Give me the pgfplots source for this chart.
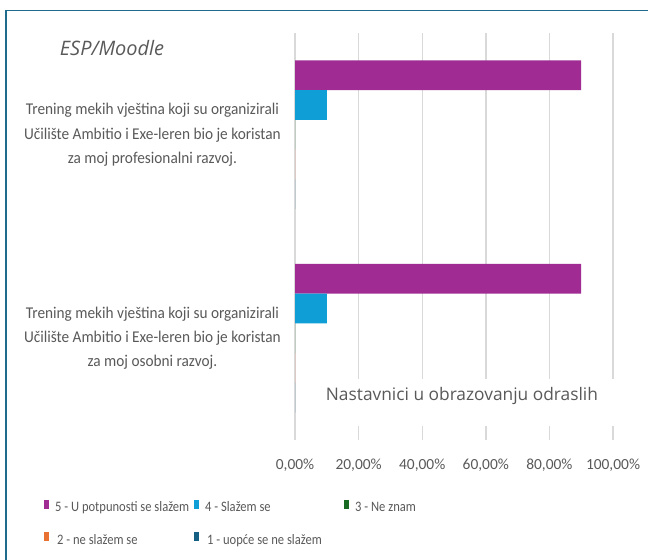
\documentclass[border=0pt]{standalone}
\usepackage{fontspec}
\setmainfont{Carlito}
\newfontfamily\aptos{Open Sans}
\newfontfamily\narrowA[FakeStretch=0.93]{Carlito}
\newfontfamily\narrowB[FakeStretch=0.87]{Carlito}
\usepackage{pgfplots}
\pgfplotsset{compat=1.18}
\definecolor{c5}{HTML}{A02B93}
\definecolor{c4}{HTML}{0F9ED5}
\definecolor{c3}{HTML}{196B24}
\definecolor{c2}{HTML}{E97132}
\definecolor{c1}{HTML}{156082}
\definecolor{txt}{HTML}{595959}
\definecolor{gridc}{HTML}{D9D9D9}
\definecolor{framec}{HTML}{1F6B8E}
\newcommand{\lb}[1]{\makebox[133bp][l]{\rule[-3bp]{0pt}{13bp}#1}}
\begin{document}
\begin{tikzpicture}[x=1bp,y=1bp]
\useasboundingbox (0,0) rectangle (648,560);
\draw[framec, line width=1.2bp] (6,-5) -- (6,549.5) -- (660,549.5);
\node[font=\aptos\itshape\fontsize{20}{24}\selectfont, text=txt] at (112,512) {ESP/Moodle};
\begin{axis}[
  at={(295bp,120bp)}, anchor=south west,
  scale only axis, width=318bp, height=407bp,
  clip=false,
  xbar, bar width=0.146,
  xmin=0, xmax=100, ymin=-0.5, ymax=1.5,
  axis line style={draw=none},
  major tick length=0pt,
  xmajorgrids, ymajorgrids=false, grid style={color=gridc, line width=1.4bp},
  xtick={0,20,40,60,80,100},
  xticklabels={{0,00\%},{20,00\%},{40,00\%},{60,00\%},{80,00\%},{100,00\%}},
  xticklabel style={font=\fontsize{15.5}{18}\selectfont, text=txt, inner sep=0pt, yshift=-19bp},
  ytick={0,1},
  yticklabels={{Trening mekih vještina koji su organizirali\\Učilište Ambitio i Exe-leren bio je koristan\\za moj osobni razvoj.},
               {Trening mekih vještina koji su organizirali\\Učilište Ambitio i Exe-leren bio je koristan\\za moj profesionalni razvoj.}},
  yticklabel style={font=\narrowA\fontsize{16.5}{24.5}\selectfont, text=txt, align=center, inner sep=0pt, xshift=-14bp},
  legend columns=3,
  legend style={at={(axis description cs:-0.7893,-0.146)}, anchor=north west, draw=none, fill=none,
    inner sep=0pt, column sep=6bp, row sep=19bp,
    font=\narrowB\fontsize{14.5}{17}\selectfont, text=txt,
    nodes={inner sep=0pt}},
  legend cell align=left,
  legend image code/.code={\fill[#1, draw=none] (0bp,-1bp) rectangle (5bp,8bp);},
]
\addplot[fill=c5, draw=none, bar shift=0.292] coordinates {(90,0) (90,1)};
\addlegendentry{\lb{5 - U potpunosti se slažem}}
\addplot[fill=c4, draw=none, bar shift=0.146] coordinates {(10,0) (10,1)};
\addlegendentry{\lb{4 - Slažem se}}
\addplot[fill=c3, draw=none, bar shift=0] coordinates {(0,0) (0,1)};
\addlegendentry{\lb{3 - Ne znam}}
\addplot[fill=c2, draw=none, bar shift=-0.146] coordinates {(0,0) (0,1)};
\addlegendentry{\lb{\hspace{2bp}2 - ne slažem se}}
\addplot[fill=c1, draw=none, bar shift=-0.292] coordinates {(0,0) (0,1)};
\addlegendentry{\lb{\hspace{2bp}1 - uopće se ne slažem}}
\fill[white] (axis cs:3.5,-0.2) rectangle (axis cs:104,-0.43);
\node[inner sep=0pt, font=\aptos\fontsize{17.4}{20}\selectfont, text=txt] at (axis cs:52.5,-0.284) {Nastavnici u obrazovanju odraslih};
\end{axis}
\end{tikzpicture}
\end{document}
